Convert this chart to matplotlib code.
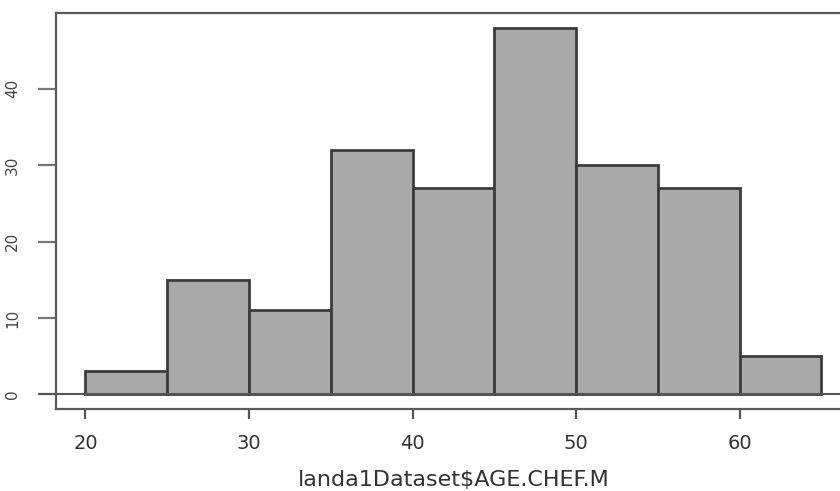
import matplotlib
matplotlib.use("Agg")
import matplotlib.pyplot as plt

# histogram bins (AGE.CHEF.M) and counts
bin_edges = [20, 25, 30, 35, 40, 45, 50, 55, 60, 65]
counts = [3, 15, 11, 32, 27, 48, 30, 27, 5]
x_ticks = [20, 30, 40, 50, 60]
y_ticks = [0, 10, 20, 30, 40]
x_label = "landa1Dataset$AGE.CHEF.M"

plt.rcParams["font.family"] = ["DejaVu Sans"]

fig = plt.figure(figsize=(8.4, 4.91), dpi=100)
ax = fig.add_axes([0.0667, 0.167, 0.9463, 0.8065])

lefts = bin_edges[:-1]
widths = [b - a for a, b in zip(bin_edges[:-1], bin_edges[1:])]
ax.bar(lefts, counts, width=widths, align="edge", color="#a9a9a9",
       edgecolor="#3c3c3c", linewidth=2)

# R-style 4% axis expansion
span = bin_edges[-1] - bin_edges[0]
ax.set_xlim(bin_edges[0] - 0.04 * span, bin_edges[-1] + 0.04 * span)
ax.set_ylim(-0.04 * max(counts), max(counts) * 1.04)

# baseline, running out past the box on the left
ax.plot([bin_edges[0] - 0.04 * span - 1.0, bin_edges[-1] + 0.04 * span],
        [0, 0], color="#555555", linewidth=1.5, clip_on=False)

for side in ax.spines.values():
    side.set_color("#5a5a5a")
    side.set_linewidth(1.6)

ax.set_xticks(x_ticks)
ax.set_xticklabels([str(v) for v in x_ticks], fontsize=14, color="#333333")
ax.set_yticks(y_ticks)
ax.set_yticklabels([str(v) for v in y_ticks], fontsize=11, color="#444444",
                   rotation=90, va="center")
ax.tick_params(axis="x", length=7, width=1.6, color="#555555", pad=11)
ax.tick_params(axis="y", length=13, width=1.6, color="#777777", pad=13)
ax.set_xlabel(x_label, fontsize=16, color="#333333", labelpad=12)

fig.savefig("out.png", dpi=100)
